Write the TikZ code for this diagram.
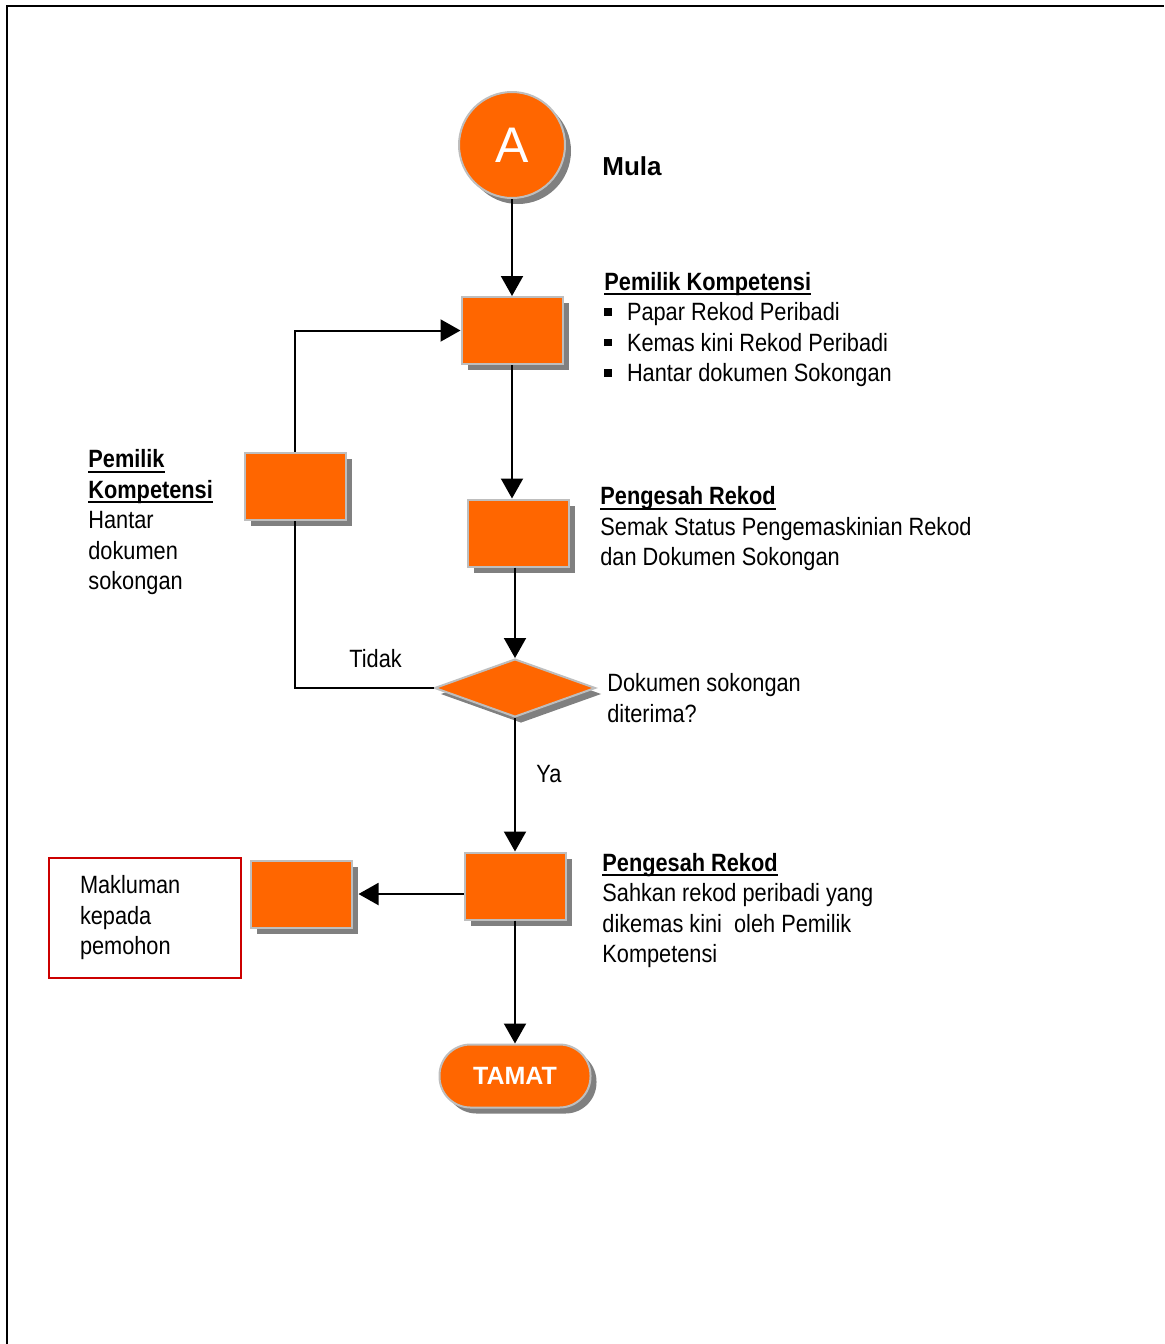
\documentclass[tikz,border=0pt]{standalone}
\usepackage{fontspec}
\setmainfont{Liberation Sans}[FakeStretch=0.87]
\newfontfamily\fullfont{Liberation Sans}
\usetikzlibrary{shapes.geometric,shadows,arrows.meta}
\definecolor{orng}{RGB}{255,102,0}
\definecolor{rim}{RGB}{190,190,190}
\newcommand\undl[1]{\setbox0\hbox{\bfseries #1}\rlap{\rule[-2.5pt]{\wd0}{1pt}}\box0}
\newcommand\sqb{\rule[2.5pt]{3.8pt}{3.8pt}\hspace{7.5pt}}
\begin{document}
\begin{tikzpicture}[x=0.5pt,y=-0.5pt,
  shad/.style={drop shadow={shadow xshift=3pt,shadow yshift=-3pt,fill=gray,opacity=1}},
  box/.style={draw=rim,line width=1pt,fill=orng,minimum width=50.5pt,minimum height=33.5pt,inner sep=0pt,shad},
  arr/.style={-{Triangle[length=10pt,width=11pt]},line width=1pt},
  txt/.style={anchor=west,align=left,inner sep=0pt,font=\fontsize{12.5}{15.25}\selectfont}]
\useasboundingbox (0,0) rectangle (1164,1344);
\draw[line width=1.3pt] (7,1344) -- (7,6) -- (1164,6);
% symbols
\node[circle,draw=rim,line width=1pt,fill=orng,minimum size=53pt,inner sep=0pt,shad,
  text=white,font=\fullfont\fontsize{25}{25}\selectfont] (mula) at (512,145) {A};
\node[anchor=west,inner sep=0pt,font=\fullfont\bfseries\fontsize{13}{13}\selectfont] (lmula) at (602,166) {Mula};
\node[box] (papar) at (512,330.5) {};
\node[box] (semak) at (518,533) {};
\node[box] (hantar) at (295,486) {};
\node[diamond,draw=rim,line width=1pt,fill=orng,minimum width=80.5pt,minimum height=29pt,inner sep=0pt,shad] (soal) at (515,688) {};
\node[box] (sahkan) at (515,886) {};
\node[box] (maklum) at (301,894) {};
\node[draw=rim,line width=1pt,fill=orng,rounded corners=15.5pt,minimum width=75.5pt,minimum height=31.5pt,inner sep=0pt,shad,
  text=white,font=\fullfont\bfseries\fontsize{12.5}{12.5}\selectfont] (tamat) at (515,1076) {TAMAT};
% connectors
\draw[arr] (mula) -- (papar);
\draw[arr] (papar.south) -- (papar.south |- semak.north);
\draw[arr] (semak.south -| soal.north) -- (soal.north);
\draw[arr] (soal.south) -- (sahkan.north);
\draw[line width=1pt] (soal.west) -| (hantar.south);
\draw[arr] (hantar.north) |- (papar.west);
\draw[arr,shorten >=3pt] (sahkan.west |- maklum) -- (maklum.east);
\draw[arr] (sahkan.south) -- (tamat.north);
% texts
\node[txt] (tpapar) at (604,329.5) {\undl{Pemilik Kompetensi}\\\sqb Papar Rekod Peribadi\\\sqb Kemas kini Rekod Peribadi\\\sqb Hantar dokumen Sokongan};
\node[txt] (tsemak) at (600,529) {\undl{Pengesah Rekod}\\Semak Status Pengemaskinian Rekod\\dan Dokumen Sokongan};
\node[txt] (tsoal) at (607,698) {Dokumen sokongan\\diterima?};
\node[txt] (tsahkan) at (602,910.5) {\undl{Pengesah Rekod}\\Sahkan rekod peribadi yang\\dikemas kini\ \ oleh Pemilik\\Kompetensi};
\node[txt] (thantar) at (88,522.5) {\undl{Pemilik}\\\undl{Kompetensi}\\Hantar\\dokumen\\sokongan};
\node[txt] (tidak) at (349,659) {Tidak};
\node[txt] (ya) at (536,774) {Ya};
\node[draw=red!80!black,line width=1pt,anchor=west,text width=65pt,inner xsep=15.5pt,inner ysep=0pt,minimum height=60pt,
  align=left,font=\fontsize{12.5}{15.25}\selectfont] (nota) at (48,918) {Makluman\\kepada\\pemohon};
\end{tikzpicture}
\end{document}
